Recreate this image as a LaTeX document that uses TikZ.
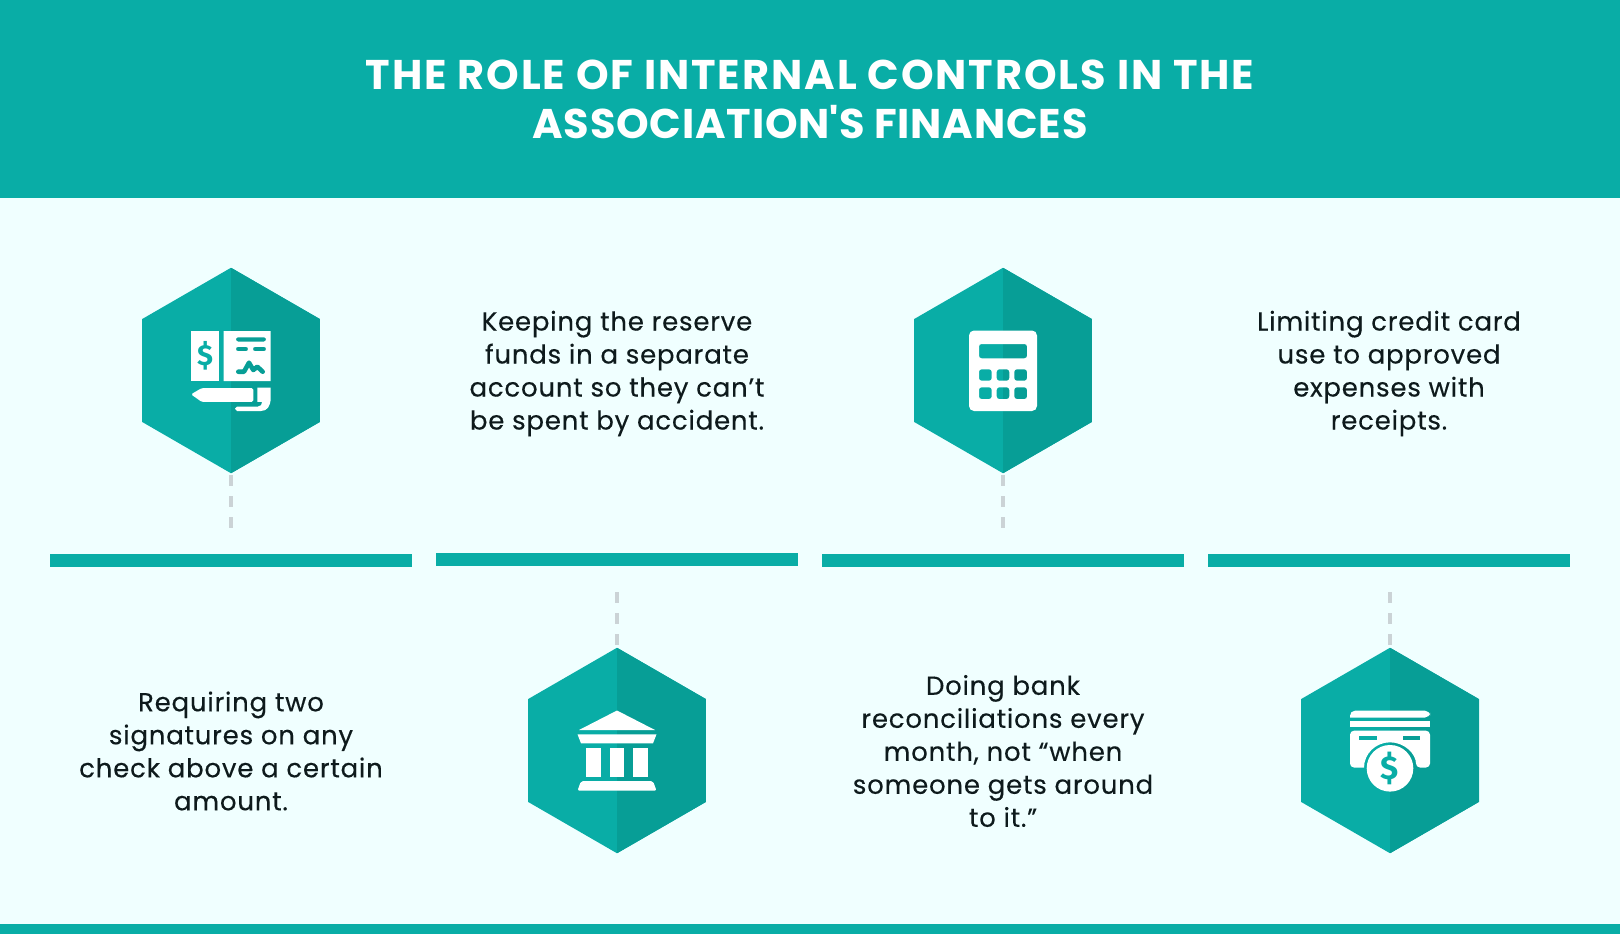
\documentclass[tikz,border=0pt]{standalone}
\usepackage{fontspec}
\setmainfont{Poppins}
\newfontfamily\iconfont{Fira Sans}
\usepackage{xcolor}
\usepackage{tikz}
\usetikzlibrary{shapes.geometric, positioning}
\definecolor{tealmain}{HTML}{09ADA6}
\definecolor{tealdark}{HTML}{079E96}
\definecolor{paleback}{HTML}{F0FFFF}
\definecolor{inktext}{HTML}{0E1A1C}
\definecolor{dashgrey}{HTML}{CBD3D6}
\tikzset{
    hexbox/.style={regular polygon, regular polygon sides=6, shape border rotate=30, minimum size=205.5pt, inner sep=0pt, outer sep=0pt, fill=tealmain,
        path picture={\fill[tealdark] (path picture bounding box.north) rectangle (path picture bounding box.south east);}},
    barbox/.style={rectangle, fill=tealmain, minimum width=361.5pt, minimum height=13.5pt, inner sep=0pt},
    textbox/.style={align=center, text=inktext, font=\fontsize{26}{33}\selectfont\addfontfeature{LetterSpace=3,FakeBold=0.25}, inner sep=0pt},
    titlebox/.style={align=center, text=white, font=\fontsize{41.5}{49.6}\selectfont\bfseries\addfontfeature{LetterSpace=4.7}, inner sep=0pt},
    dashline/.style={dashgrey, line width=3.4pt, dash pattern=on 11pt off 10pt},
    chequeicon/.pic={
        \fill[white] (-40,-39.5) rectangle (-11.7,10.5);
        \fill[white, even odd rule] (-7.3,-39.5) rectangle (39.7,10.5)
            [rounded corners=2pt] (5,-33.2) rectangle (35,-29)
            (5,-23.6) rectangle (17,-19.4)
            (22,-23.6) rectangle (35,-19.4);
        \draw[tealdark, line width=4.6pt, line cap=round, line join=round] (7.3,1.2) -- (13,1.2) -- (18,-7.8) -- (22.3,-.5) -- (26.3,-3.8) -- (31.7,1.2);
        \node[text=tealmain, font=\iconfont\fontsize{29}{29}\selectfont\bfseries, inner sep=0pt] (chequedollar) at (-25.8,-14.5) {\$};
        \fill[white, rounded corners=1.5pt] (-40,23.8) -- (-29.3,17.6) -- (22.3,17.6) -- (22.3,31.4) -- (-29.3,31.4) -- cycle;
        \fill[white] (26.3,17) -- (39.7,17) -- (39.7,27) .. controls (39.7,36) and (36,40.5) .. (30,40.5) -- (6,40.5) -- (4,38.2) -- (6,36) -- (27,36) .. controls (30,36) and (31,34) .. (31,31.4) -- (26.3,31.4) -- cycle;
    },
    bankicon/.pic={
        \fill[white] (0,-40) -- (38,-20.5) -- (-38,-20.5) -- cycle;
        \fill[white] (-39.5,-16.2) -- (39.5,-16.2) -- (36,-7.2) -- (-36,-7.2) -- cycle;
        \fill[white] (-31,-2.2) rectangle (-16.3,26.2);
        \fill[white] (-7,-2.2) rectangle (7,26.2);
        \fill[white] (16.3,-2.2) rectangle (31,26.2);
        \fill[white, rounded corners=2pt] (-36,30.5) -- (36,30.5) -- (39.5,40.2) -- (-39.5,40.2) -- cycle;
    },
    calcicon/.pic={
        \fill[white, even odd rule, rounded corners=5pt] (-34,-40) rectangle (34,40.5)
            [rounded corners=2.5pt] (-24,-26.5) rectangle (24,-12.2)
            (-24,-1.2) rectangle (-11.3,10.2)
            (-6.3,-1.2) rectangle (6.3,10.2)
            (11.3,-1.2) rectangle (24,10.2)
            (-24,16.8) rectangle (-11.3,28.5)
            (-6.3,16.8) rectangle (6.3,28.5)
            (11.3,16.8) rectangle (24,28.5);
    },
    cardicon/.pic={
        \fill[white, rounded corners=5pt] (-40,-33) -- (-40,-39.8) -- (40,-39.8) -- (40,-33) [sharp corners] -- cycle;
        \fill[white] (-40,-30) rectangle (40,-24);
        \fill[white, rounded corners=4pt] (-40,-19.8) -- (40,-19.8) -- (40,17) -- (26,17) [sharp corners] .. controls (26,3.4) and (14.4,-8.2) .. (0,-8.2) .. controls (-14.4,-8.2) and (-26,3.4) .. (-26,17) [rounded corners=4pt] -- (-40,17) -- cycle;
        \fill[tealmain] (-30.7,-14.5) rectangle (-12.7,-10.5);
        \fill[tealdark] (12.7,-14.5) rectangle (30,-10.5);
        \fill[white] (0,17.8) circle (23.3);
        \node[text=tealmain, font=\iconfont\fontsize{33}{33}\selectfont\bfseries, inner sep=0pt] (coindollar) at (0,17.8) {\$};
    }
}

\begin{document}
\begin{tikzpicture}[x=1pt, y=-1pt]
    \useasboundingbox (0,0) rectangle (1620,934);

    % Background and bands
    \fill[paleback] (0,0) rectangle (1620,934);
    \fill[tealmain] (0,0) rectangle (1620,198);
    \fill[tealmain] (0,924) rectangle (1620,934);

    % Title
    \node[titlebox] (title) at (810,99.5) {THE ROLE OF INTERNAL CONTROLS IN THE\\\addfontfeature{LetterSpace=2}ASSOCIATION\textquotesingle S FINANCES};

    % Timeline bars
    \node[barbox] (bara) at (231,560.5) {};
    \node[barbox] (barb) at (617,559.5) {};
    \node[barbox] (barc) at (1003,560.5) {};
    \node[barbox] (bard) at (1389,560.5) {};

    % Hexagons
    \node[hexbox] (hexa) at (231,370.5) {};
    \node[hexbox] (hexb) at (617,750.5) {};
    \node[hexbox] (hexc) at (1003,370.5) {};
    \node[hexbox] (hexd) at (1390,750.5) {};

    % Icons
    \pic at (hexa) {chequeicon};
    \pic at (hexb) {bankicon};
    \pic at (hexc) {calcicon};
    \pic at (hexd) {cardicon};

    % Dashed connectors
    \coordinate (tipa) at (231,529);
    \coordinate (tipb) at (617,591);
    \coordinate (tipc) at (1003,529);
    \coordinate (tipd) at (1390,591);
    \draw[dashline, shorten <=2pt] (hexa) -- (tipa);
    \draw[dashline, shorten <=3pt] (hexb) -- (tipb);
    \draw[dashline, shorten <=2pt] (hexc) -- (tipc);
    \draw[dashline, shorten <=3pt] (hexd) -- (tipd);

    % Captions
    \node[textbox] (capa) at (231,751) {Requiring two\\signatures on any\\check above a certain\\amount.};
    \node[textbox] (capb) at (617,373.5) {Keeping the reserve\\funds in a separate\\account so they can’t\\be spent by accident.};
    \node[textbox] (capc) at (1003,751) {Doing bank\\reconciliations every\\month, not “when\\someone gets around\\to it.”};
    \node[textbox] (capd) at (1389,373.5) {Limiting credit card\\use to approved\\expenses with\\receipts.};
\end{tikzpicture}
\end{document}
